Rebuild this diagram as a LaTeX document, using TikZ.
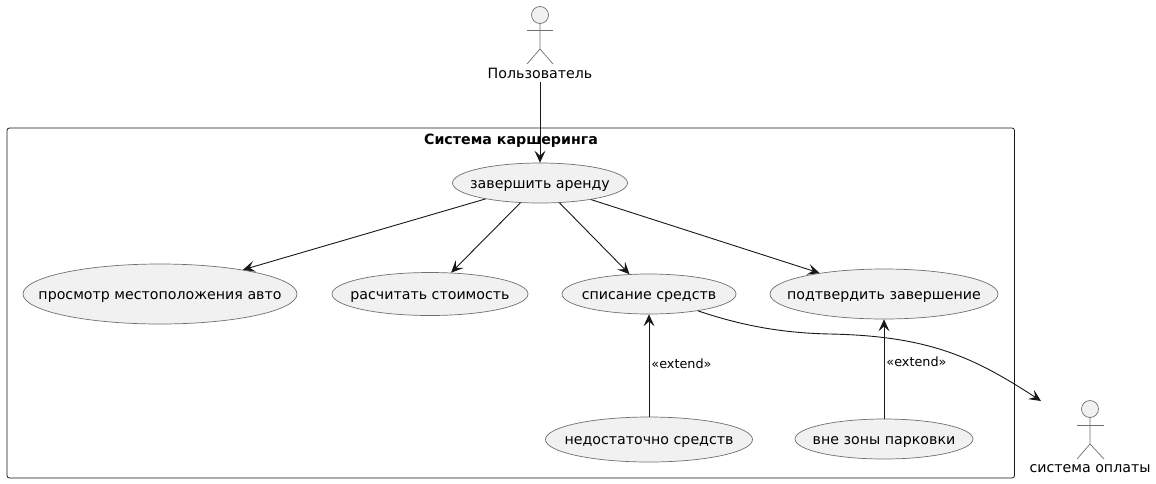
\documentclass[tikz,border=0pt]{standalone}
\usepackage{fontspec}
\setmainfont{DejaVu Sans}
\usetikzlibrary{arrows.meta, shapes.geometric, positioning}
\definecolor{umlfill}{HTML}{F1F1F1}
\definecolor{umlline}{HTML}{181818}
\definecolor{umlthin}{HTML}{707070}
\tikzset{
    usecase/.style={ellipse, draw=umlthin, line width=0.7pt, fill=umlfill, inner sep=0pt},
    casetext/.style={font=\fontsize{14.2}{16}\selectfont, inner sep=0pt, yshift=-2.5pt},
    flow/.style={draw=umlline, line width=0.9pt, -{Stealth[length=12pt, width=11pt, inset=5pt]}},
    actorhead/.style={circle, draw=umlthin, line width=0.7pt, fill=umlfill, minimum size=17pt, inner sep=0pt},
    actorbody/.style={draw=umlthin, line width=0.7pt},
    actorname/.style={font=\fontsize{14.2}{16}\selectfont, inner sep=0pt},
    extendlabel/.style={font=\fontsize{12.8}{15}\selectfont, inner sep=0pt}
}
\begin{document}
\begin{tikzpicture}[x=1pt, y=-1pt]
\useasboundingbox (0,0) rectangle (1156,483);
\fill[white] (0,0) rectangle (1156,483);

\draw[umlline, line width=0.8pt, rounded corners=2.5pt] (7,128) rectangle (1014.5,478);
\node[font=\fontsize{14.2}{16}\selectfont\bfseries, inner sep=0pt] (sharingTitle) at (511,141) {Система каршеринга};

\node[actorhead] (userHead) at (540,15) {};
\draw[actorbody] (userHead.south) -- (540,49) -- (527,64);
\draw[actorbody] (540,49) -- (553,64);
\draw[actorbody] (527,30) -- (553,30);
\node[actorname] (userName) at (540,73) {Пользователь};

\node[actorhead] (payHead) at (1090,409) {};
\draw[actorbody] (payHead.south) -- (1090,444) -- (1077,459);
\draw[actorbody] (1090,444) -- (1104,459);
\draw[actorbody] (1077,425) -- (1104,425);
\node[actorname] (payName) at (1090,469) {система оплаты};

\node[usecase, minimum width=175pt, minimum height=40pt, label={[casetext]center:завершить аренду}] (finishRent) at (540,183) {};
\node[usecase, minimum width=274pt, minimum height=60pt, label={[casetext]center:просмотр местоположения авто}] (viewLocation) at (160,294) {};
\node[usecase, minimum width=196pt, minimum height=43pt, label={[casetext]center:расчитать стоимость}] (calcCost) at (430,294) {};
\node[usecase, minimum width=174pt, minimum height=40pt, label={[casetext]center:списание средств}] (chargeFunds) at (649,294) {};
\node[usecase, minimum width=228pt, minimum height=50pt, label={[casetext]center:подтвердить завершение}] (confirmEnd) at (884,294) {};
\node[usecase, minimum width=207pt, minimum height=45pt, label={[casetext]center:недостаточно средств}] (lowFunds) at (649,439.5) {};
\node[usecase, minimum width=178pt, minimum height=40pt, label={[casetext]center:вне зоны парковки}] (outZone) at (884,439) {};

\coordinate (payEnd) at (1041,401);

\draw[flow] (userName.south) ++(0,4) -- (finishRent.north);
\draw[flow] (finishRent) -- (viewLocation);
\draw[flow] (finishRent) -- (calcCost);
\draw[flow] (finishRent) -- (chargeFunds);
\draw[flow] (finishRent.-18) -- (confirmEnd.162);
\draw[flow] (lowFunds.north) -- (chargeFunds.south) node[pos=0.52, right=2pt, extendlabel] (lowExtend) {«extend»};
\draw[flow] (outZone.north) -- (confirmEnd.south) node[pos=0.57, right=2pt, extendlabel] (zoneExtend) {«extend»};
\draw[flow] (chargeFunds.-19) .. controls (740,325) and (780,333) .. (830,334) .. controls (930,336) and (975,358) .. (payEnd);

\end{tikzpicture}
\end{document}
